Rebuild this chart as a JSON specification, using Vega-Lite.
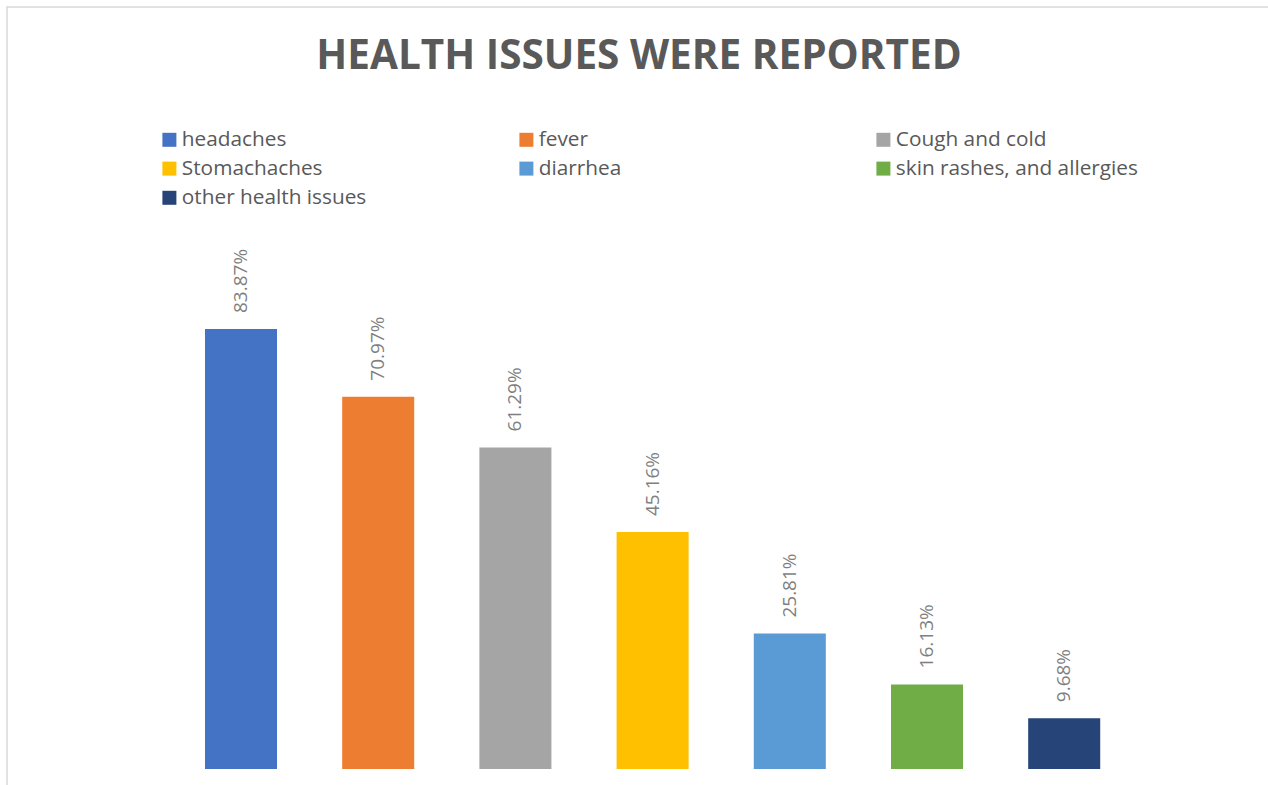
{
  "$schema": "https://vega.github.io/schema/vega-lite/v6.json",
  "autosize": "none",
  "width": 1264,
  "height": 780,
  "padding": {"left": 7, "top": 7, "right": 0, "bottom": 0},
  "background": "white",
  "title": {
    "text": "HEALTH ISSUES WERE REPORTED",
    "font": "Open Sans",
    "fontSize": 40.5,
    "fontWeight": "bold",
    "color": "#595959",
    "anchor": "middle",
    "frame": "group",
    "baseline": "alphabetic",
    "offset": -60,
    "dy": 42.5
  },
  "config": {
    "view": {"stroke": "#d9d9d9", "strokeWidth": 1.5},
    "font": "Open Sans"
  },
  "data": {
    "values": [
      {"issue": "headaches", "value": 0.8387},
      {"issue": "fever", "value": 0.7097},
      {"issue": "Cough and cold", "value": 0.6129},
      {"issue": "Stomachaches", "value": 0.4516},
      {"issue": "diarrhea", "value": 0.2581},
      {"issue": "skin rashes, and allergies", "value": 0.1613},
      {"issue": "other health issues", "value": 0.0968}
    ]
  },
  "encoding": {
    "x": {
      "field": "issue",
      "type": "nominal",
      "sort": null,
      "axis": null,
      "scale": {"range": [165.4, 1125.8], "paddingInner": 0.475, "paddingOuter": 0.2375}
    },
    "y": {
      "field": "value",
      "type": "quantitative",
      "axis": null,
      "scale": {"domain": [-0.0343, 1.4525], "nice": false, "zero": false}
    }
  },
  "layer": [
    {
      "mark": {"type": "bar"},
      "encoding": {
        "color": {
          "field": "issue",
          "type": "nominal",
          "sort": null,
          "scale": {
            "domain": ["headaches", "fever", "Cough and cold", "Stomachaches", "diarrhea", "skin rashes, and allergies", "other health issues"],
            "range": ["#4472C4", "#ED7D31", "#A5A5A5", "#FFC000", "#5B9BD5", "#70AD47", "#264478"]
          },
          "legend": {
            "title": null,
            "orient": "none",
            "legendX": 152,
            "legendY": 122,
            "direction": "horizontal",
            "columns": 3,
            "gridAlign": "all",
            "columnPadding": 92,
            "rowPadding": 7.2,
            "symbolType": "square",
            "symbolSize": 196,
            "symbolStrokeWidth": 0,
            "symbolOpacity": 1,
            "labelFont": "Open Sans",
            "labelFontSize": 20.8,
            "labelColor": "#595959",
            "labelOffset": 2,
            "labelLimit": 400
          }
        }
      }
    },
    {
      "mark": {
        "type": "text",
        "angle": 270,
        "align": "left",
        "baseline": "middle",
        "dx": 16,
        "font": "Open Sans",
        "fontSize": 19,
        "color": "#7f7f7f"
      },
      "encoding": {
        "text": {"field": "value", "type": "quantitative", "format": ".2%"}
      }
    }
  ]
}
